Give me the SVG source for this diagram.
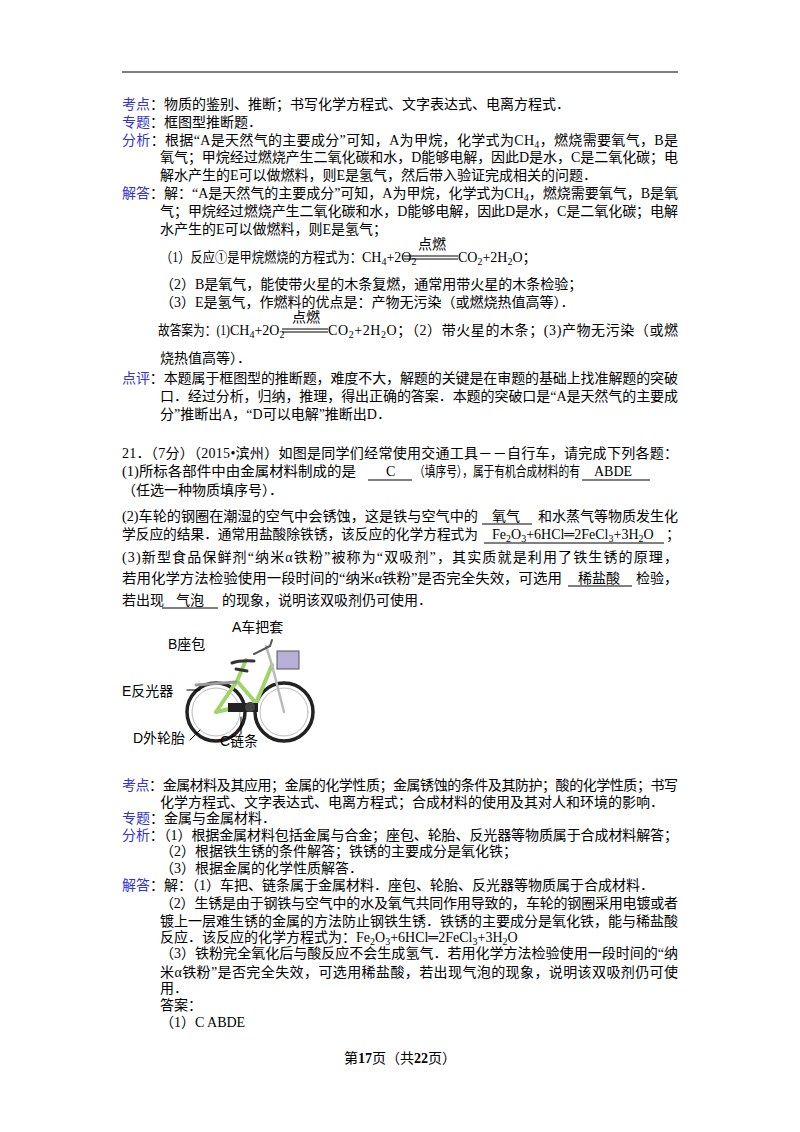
<svg xmlns="http://www.w3.org/2000/svg" width="800" height="1132" viewBox="0 0 800 1132">
<style>
text{font-family:"Liberation Serif","Noto Sans CJK SC",serif;font-size:14px;fill:#000}
.l{fill:#3333cc}
.s{font-size:10px}
.u{stroke:#000;stroke-width:1}
.b{font-family:"Liberation Sans","Noto Sans CJK SC",sans-serif;font-size:14px}
</style>
<rect width="800" height="1132" fill="#fff"/>
<line x1="122" y1="72" x2="678" y2="72" stroke="#000" stroke-width="1.2"/>
<g id="top">
<text x="122" y="109"><tspan class="l">考点</tspan>：物质的鉴别、推断；书写化学方程式、文字表达式、电离方程式．</text>
<text x="122" y="127"><tspan class="l">专题</tspan>：框图型推断题．</text>
<text x="122" y="145" textLength="556" lengthAdjust="spacing"><tspan class="l">分析</tspan>：根据“A是天然气的主要成分”可知，A为甲烷，化学式为CH<tspan class="s" dy="3">4</tspan><tspan dy="-3">，燃烧需要氧气，B是</tspan></text>
<text x="160" y="162" textLength="518" lengthAdjust="spacing">氧气；甲烷经过燃烧产生二氧化碳和水，D能够电解，因此D是水，C是二氧化碳；电</text>
<text x="160" y="180">解水产生的E可以做燃料，则E是氢气，然后带入验证完成相关的问题．</text>
<text x="122" y="198" textLength="556" lengthAdjust="spacing"><tspan class="l">解答</tspan>：解：“A是天然气的主要成分”可知，A为甲烷，化学式为CH<tspan class="s" dy="3">4</tspan><tspan dy="-3">，燃烧需要氧气，B是氧</tspan></text>
<text x="160" y="216" textLength="518" lengthAdjust="spacing">气；甲烷经过燃烧产生二氧化碳和水，D能够电解，因此D是水，C是二氧化碳；电解</text>
<text x="160" y="234">水产生的E可以做燃料，则E是氢气；</text>
<text x="160" y="262" textLength="202" lengthAdjust="spacingAndGlyphs">（1）反应①是甲烷燃烧的方程式为：</text>
<text x="362" y="262">CH<tspan class="s" dy="3">4</tspan><tspan dy="-3">+2O</tspan><tspan class="s" dy="3">2</tspan></text>
<text x="418" y="249" class="b">点燃</text>
<line x1="404" y1="256" x2="458" y2="256" class="u"/><line x1="404" y1="259" x2="458" y2="259" class="u"/>
<text x="458" y="262">CO<tspan class="s" dy="3">2</tspan><tspan dy="-3">+2H</tspan><tspan class="s" dy="3">2</tspan><tspan dy="-3">O；</tspan></text>
<text x="160" y="289">（2）B是氧气，能使带火星的木条复燃，通常用带火星的木条检验；</text>
<text x="160" y="307">（3）E是氢气，作燃料的优点是：产物无污染（或燃烧热值高等）．</text>
<text x="158" y="335" textLength="72" lengthAdjust="spacingAndGlyphs">故答案为：(1)</text>
<text x="230" y="335">CH<tspan class="s" dy="3">4</tspan><tspan dy="-3">+2O</tspan><tspan class="s" dy="3">2</tspan></text>
<text x="292" y="322" class="b">点燃</text>
<line x1="282" y1="329" x2="328" y2="329" class="u"/><line x1="282" y1="332" x2="328" y2="332" class="u"/>
<text x="328" y="335" textLength="350" lengthAdjust="spacing">CO<tspan class="s" dy="3">2</tspan><tspan dy="-3">+2H</tspan><tspan class="s" dy="3">2</tspan><tspan dy="-3">O；（2）带火星的木条；(3)产物无污染（或燃</tspan></text>
<text x="160" y="363">烧热值高等）．</text>
<text x="122" y="383" textLength="556" lengthAdjust="spacing"><tspan class="l">点评</tspan>：本题属于框图型的推断题，难度不大，解题的关键是在审题的基础上找准解题的突破</text>
<text x="160" y="401" textLength="518" lengthAdjust="spacing">口．经过分析，归纳，推理，得出正确的答案．本题的突破口是“A是天然气的主要成</text>
<text x="160" y="419">分”推断出A，“D可以电解”推断出D．</text>
</g>
<g id="q21">
<text x="122" y="458" textLength="556" lengthAdjust="spacing">21．（7分）（2015•滨州）如图是同学们经常使用交通工具－－自行车，请完成下列各题：</text>
<text x="122" y="476" textLength="234" lengthAdjust="spacingAndGlyphs">(1)所标各部件中由金属材料制成的是</text>
<text x="386" y="476">C</text><text x="414" y="476" textLength="166" lengthAdjust="spacingAndGlyphs">（填序号），属于有机合成材料的有</text><text x="594" y="476">ABDE</text>
<line x1="368" y1="480" x2="412" y2="480" class="u"/><line x1="582" y1="480" x2="650" y2="480" class="u"/>
<text x="122" y="495">（任选一种物质填序号）．</text>
<text x="122" y="521" textLength="356" lengthAdjust="spacingAndGlyphs">(2)车轮的钢圈在潮湿的空气中会锈蚀，这是铁与空气中的</text>
<text x="492" y="521">氧气</text><text x="538" y="521" textLength="140" lengthAdjust="spacing">和水蒸气等物质发生化</text>
<line x1="482" y1="524" x2="532" y2="524" class="u"/>
<text x="122" y="539" textLength="356" lengthAdjust="spacingAndGlyphs">学反应的结果．通常用盐酸除铁锈，该反应的化学方程式为</text>
<text x="492" y="539">Fe<tspan class="s" dy="3">2</tspan><tspan dy="-3">O</tspan><tspan class="s" dy="3">3</tspan><tspan dy="-3">+6HCl═2FeCl</tspan><tspan class="s" dy="3">3</tspan><tspan dy="-3">+3H</tspan><tspan class="s" dy="3">2</tspan><tspan dy="-3">O</tspan></text>
<text x="666" y="539">；</text>
<line x1="484" y1="543" x2="664" y2="543" class="u"/>
<text x="122" y="562" textLength="556" lengthAdjust="spacing">(3)新型食品保鲜剂“纳米α铁粉”被称为“双吸剂”，其实质就是利用了铁生锈的原理，</text>
<text x="122" y="583" textLength="440" lengthAdjust="spacingAndGlyphs">若用化学方法检验使用一段时间的“纳米α铁粉”是否完全失效，可选用</text>
<text x="578" y="583">稀盐酸</text><text x="636" y="583">检验，</text>
<line x1="568" y1="586" x2="632" y2="586" class="u"/>
<text x="122" y="605">若出现</text><text x="176" y="605">气泡</text><text x="222" y="605">的现象，说明该双吸剂仍可使用．</text>
<line x1="162" y1="608" x2="218" y2="608" class="u"/>
</g>
<g id="bike" fill="none" stroke-linecap="round">
<circle cx="216" cy="712" r="29" stroke="#222" stroke-width="3.5"/>
<circle cx="216" cy="712" r="24" stroke="#bbb" stroke-width="1"/>
<circle cx="284" cy="712" r="29" stroke="#222" stroke-width="3.5"/>
<circle cx="284" cy="712" r="24" stroke="#bbb" stroke-width="1"/>
<path d="M216 712 L237 681 L256 703 L272 665 M237 681 L246 660 M256 703 L216 712" stroke="#9fd46a" stroke-width="4"/>
<path d="M272 665 L284 712 M266 646 L272 665" stroke="#bbb" stroke-width="2.5"/>
<path d="M254 654 L270 646 L272 640" stroke="#555" stroke-width="2"/>
<path d="M236 669 L247 671 M232 663 Q240 660 254 661" stroke="#333" stroke-width="3"/>
<rect x="277" y="651" width="22" height="18" fill="#b8b0d8" stroke="#555"/>
<path d="M196 685 L236 682" stroke="#999" stroke-width="3"/>
<rect x="228" y="703" width="30" height="9" fill="#222"/>
<circle cx="250" cy="707" r="5" fill="#444"/>
<path d="M187 690 L200 690 M190 740 L200 730 M241 734 L241 717" stroke="#000" stroke-width="1"/>
</g>
<g id="labels">
<text x="232" y="632" class="b">A车把套</text>
<text x="168" y="649" class="b">B座包</text>
<text x="122" y="696" class="b">E反光器</text>
<text x="133" y="743" class="b">D外轮胎</text>
<text x="220" y="746" class="b">C链条</text>
</g>
<g id="bottom">
<text x="122" y="790" textLength="556" lengthAdjust="spacing"><tspan class="l">考点</tspan>：金属材料及其应用；金属的化学性质；金属锈蚀的条件及其防护；酸的化学性质；书写</text>
<text x="160" y="807">化学方程式、文字表达式、电离方程式；合成材料的使用及其对人和环境的影响．</text>
<text x="122" y="823"><tspan class="l">专题</tspan>：金属与金属材料．</text>
<text x="122" y="840" textLength="556" lengthAdjust="spacing"><tspan class="l">分析</tspan>：（1）根据金属材料包括金属与合金；座包、轮胎、反光器等物质属于合成材料解答；</text>
<text x="160" y="856">（2）根据铁生锈的条件解答；铁锈的主要成分是氧化铁；</text>
<text x="160" y="873">（3）根据金属的化学性质解答．</text>
<text x="122" y="890"><tspan class="l">解答</tspan>：解：（1）车把、链条属于金属材料．座包、轮胎、反光器等物质属于合成材料．</text>
<text x="160" y="908" textLength="518" lengthAdjust="spacing">（2）生锈是由于钢铁与空气中的水及氧气共同作用导致的，车轮的钢圈采用电镀或者</text>
<text x="160" y="926" textLength="518" lengthAdjust="spacing">镀上一层难生锈的金属的方法防止钢铁生锈．铁锈的主要成分是氧化铁，能与稀盐酸</text>
<text x="160" y="942">反应．该反应的化学方程式为：Fe<tspan class="s" dy="3">2</tspan><tspan dy="-3">O</tspan><tspan class="s" dy="3">3</tspan><tspan dy="-3">+6HCl═2FeCl</tspan><tspan class="s" dy="3">3</tspan><tspan dy="-3">+3H</tspan><tspan class="s" dy="3">2</tspan><tspan dy="-3">O</tspan></text>
<text x="160" y="958" textLength="518" lengthAdjust="spacing">（3）铁粉完全氧化后与酸反应不会生成氢气．若用化学方法检验使用一段时间的“纳</text>
<text x="160" y="977" textLength="518" lengthAdjust="spacing">米α铁粉”是否完全失效，可选用稀盐酸，若出现气泡的现象，说明该双吸剂仍可使</text>
<text x="160" y="993">用．</text>
<text x="160" y="1010">答案：</text>
<text x="160" y="1027">（1）C  ABDE</text>
</g>
<text x="400" y="1063" text-anchor="middle" font-size="13">第<tspan font-weight="bold">17</tspan>页（共<tspan font-weight="bold">22</tspan>页）</text>
</svg>
